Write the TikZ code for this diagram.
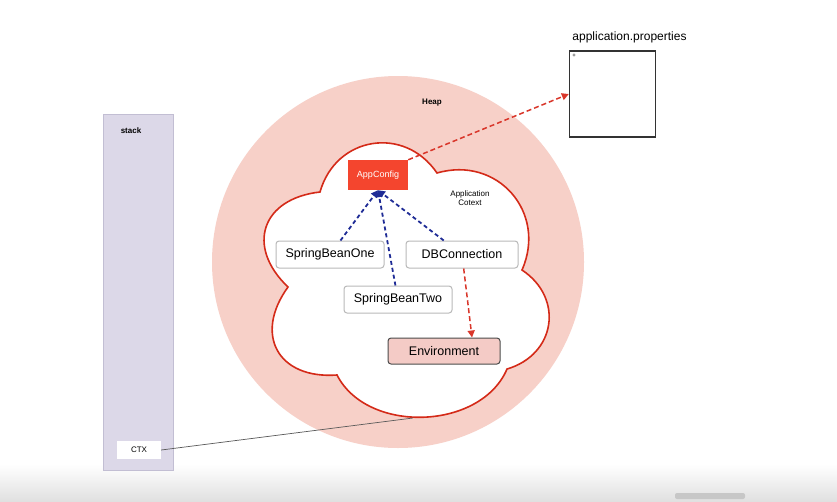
\documentclass[tikz,border=0pt]{standalone}
\usepackage{fontspec}
\setmainfont{Liberation Sans}
\usetikzlibrary{positioning, arrows.meta}
\definecolor{heappink}{HTML}{F7D0C8}
\definecolor{stackfill}{HTML}{DCD8E8}
\definecolor{stackline}{HTML}{C2BED3}
\definecolor{cloudred}{HTML}{D42A18}
\definecolor{cfgred}{HTML}{F4452E}
\definecolor{envpink}{HTML}{F4CBC6}
\definecolor{depblue}{HTML}{1F2C96}
\definecolor{refred}{HTML}{D9362A}

\begin{document}
\begin{tikzpicture}[x=1pt, y=-1pt,
    bean/.style={draw=gray!55, fill=white, rounded corners=3pt, line width=1pt,
        minimum width=108pt, minimum height=27pt, inner sep=0pt,
        font=\fontsize{12.5}{14}\selectfont},
    tiny/.style={font=\fontsize{8}{9.5}\selectfont},
    lobe/.style={bend left=65, looseness=#1},
    lobe/.default=1.25,
    dep/.style={draw=depblue, line width=1.8pt, dash pattern=on 4pt off 3pt,
        -{Triangle[length=7pt, width=7pt]}},
    ref/.style={draw=refred, line width=1.5pt, dash pattern=on 5pt off 3pt,
        -{Triangle[length=7pt, width=7pt]}}]
\useasboundingbox (0,0) rectangle (837,501);
\fill[white] (0,0) rectangle (837,501);
\shade[top color=white, bottom color=black!12] (0,464) rectangle (837,501);
\fill[black!22, rounded corners=2pt] (675,493) rectangle (745,499);

% stack
\node[draw=stackline, fill=stackfill, line width=1pt, minimum width=70pt,
    minimum height=356pt] (stack) at (138,292) {};
\node[tiny, font=\fontsize{8}{9.5}\selectfont\bfseries] (stacklbl) at (131,131) {stack};
\node[fill=white, tiny, minimum width=44pt, minimum height=18pt, inner sep=0pt] (ctx) at (139,450) {CTX};

% heap
\node[circle, fill=heappink, minimum size=372pt, inner sep=0pt] (heap) at (398,262) {};
\node[tiny, font=\fontsize{8}{9.5}\selectfont\bfseries] (heaplbl) at (432,103) {Heap};

% application context cloud
\draw[cloudred, fill=white, line width=1.6pt]
    (320,192) to[lobe] (437,173) to[lobe] (522,270) to[lobe=1.3] (507,369)
    to[lobe=1.0] (337,375) to[lobe=1.5] (288,287) to[lobe=1.5] (320,192) -- cycle;
\coordinate (ctxend) at (413,418);
\node[tiny, align=center] (ctxlbl) at (470,198) {Application\\Cotext};

% beans
\node[fill=cfgred, text=white, minimum width=60pt, minimum height=30pt, inner sep=0pt,
    font=\fontsize{9}{10}\selectfont] (app) at (378,175) {AppConfig};
\node[bean] (sb1) at (330,254.5) {SpringBeanOne};
\node[bean, minimum width=112pt] (db) at (462,254.5) {DBConnection};
\node[bean] (sb2) at (398,299.5) {SpringBeanTwo};
\node[bean, fill=envpink, draw=black!70, minimum width=112pt, minimum height=26pt] (env) at (444,351) {Environment};

% properties file
\node[draw=black!80, line width=1.4pt, minimum size=86pt, inner sep=0pt] (prop) at (612.5,94) {};
\node[font=\fontsize{12}{14}\selectfont, above=4pt of prop, xshift=17pt] (proplbl) {application.properties};
\node[font=\fontsize{6}{6}\selectfont, inner sep=0pt] (plus) at (574,56) {+};

% dependencies
\foreach \src in {sb1, sb2, db} {
    \draw[dep] (\src) -- (app.south);
}
\draw[ref] (app.north east) -- (prop.west);
\draw[ref] (db) -- ([xshift=28pt]env.north);
\draw[black!65, line width=0.7pt] (ctx.east) -- (ctxend);
\end{tikzpicture}
\end{document}
